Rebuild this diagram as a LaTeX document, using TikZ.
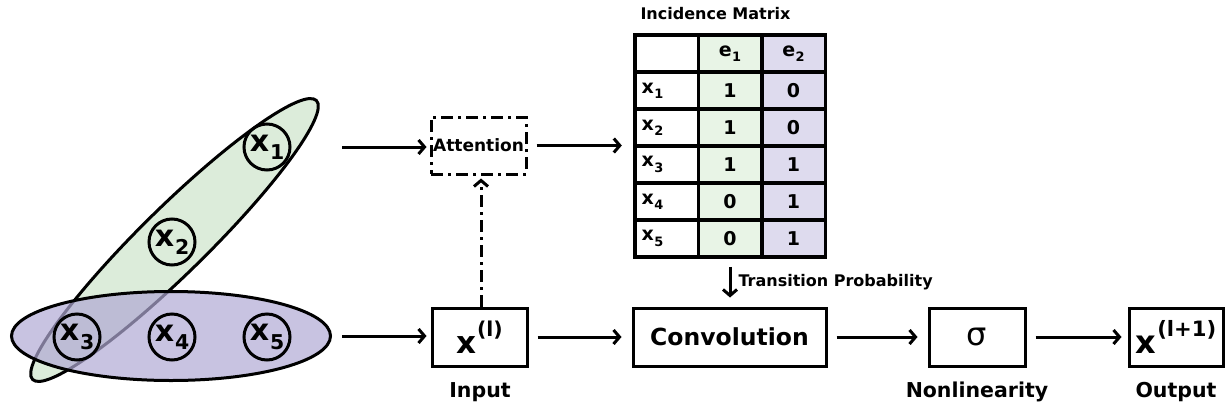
\documentclass[tikz,border=0pt]{standalone}
\usepackage{fontspec}
\usepackage{graphicx}
\setmainfont{DejaVu Sans}
\usetikzlibrary{arrows.meta,shapes.geometric,fit}
\definecolor{gfill}{RGB}{220,236,218}
\definecolor{pfill}{RGB}{176,169,212}
\definecolor{gcol}{RGB}{232,244,230}
\definecolor{pcol}{RGB}{222,219,238}
\newcommand\fsz[1]{\fontsize{#1}{#1}\selectfont}
\newcommand\vsub[2]{#1\kern0.03em\raisebox{-0.28em}{\scalebox{0.68}{#2}}}
\newcommand\vsup[2]{#1\kern0.03em\raisebox{0.55em}{\scalebox{0.66}{#2}}}
\begin{document}
\begin{tikzpicture}[x=1pt,y=-1pt,
  arr/.style={line width=3pt,-{Straight Barb[length=6pt,width=14pt]}},
  vtx/.style={circle,draw,line width=3pt,minimum size=46pt,inner sep=0pt,font=\fsz{30}\bfseries},
  hedge/.style={ellipse,draw,line width=3pt,inner sep=0pt},
  stage/.style={draw,line width=3pt,minimum height=58pt,inner sep=0pt},
  lbl/.style={font=\fsz{20.5}\bfseries,inner sep=0pt},
  cell/.style={draw,line width=3.5pt,minimum width=63.5pt,minimum height=37pt,inner sep=0pt,font=\fsz{19}\bfseries},
  rowlbl/.style={cell,text width=50pt,align=left},
  dashdot/.style={dash pattern=on 12pt off 5pt on 3pt off 5pt}
]
\useasboundingbox (0,0) rectangle (1226,410);

% hyperedges
\node[hedge,fill=gfill,minimum width=398pt,minimum height=66pt,rotate=44.5] (e1) at (174.5,240) {};
\node[hedge,fill=pfill,fill opacity=0.7,minimum width=319pt,minimum height=89pt] (e2) at (171,336) {};

% vertices
\node[vtx] (x1) at (267,147) {\vsub{x}{1}};
\node[vtx] (x2) at (172,242) {\vsub{x}{2}};
\node[vtx] (x3) at (77,337) {\vsub{x}{3}};
\node[vtx] (x4) at (172,337) {\vsub{x}{4}};
\node[vtx] (x5) at (267,337) {\vsub{x}{5}};

\coordinate (h1) at (342,147);
\coordinate (h2) at (342,336);

% attention
\node[draw,line width=3pt,dashdot,minimum width=95pt,minimum height=57pt,inner sep=0pt,font=\fsz{17}\bfseries] (att) at (478.5,145.5) {Attention};

% incidence matrix
\node[font=\fsz{16}\bfseries,inner sep=0pt] (title) at (715.5,14) {Incidence Matrix};
\node[cell] (c00) at (666.5,53.5) {};
\node[cell,fill=gcol] (c01) at (730,53.5) {\vsub{e}{1}};
\node[cell,fill=pcol] (c02) at (793.5,53.5) {\vsub{e}{2}};
\foreach \r/\a/\b in {1/1/0,2/1/0,3/1/1,4/0/1,5/0/1}{
  \node[rowlbl] (c\r0) at (666.5,53.5+37*\r) {\vsub{x}{\r}};
  \node[cell,fill=gcol] (c\r1) at (730,53.5+37*\r) {\a};
  \node[cell,fill=pcol] (c\r2) at (793.5,53.5+37*\r) {\b};
}
\node[fit=(c00)(c52),inner sep=0pt] (tbl) {};

% pipeline
\node[stage,minimum width=95pt,font=\fsz{31}\bfseries] (xl) at (479.5,337) {\vsup{x}{(l)}};
\node[stage,minimum width=193pt,font=\fsz{23.5}\bfseries] (conv) at (729.5,337) {Convolution};
\node[stage,minimum width=96pt,font=\fsz{32}] (sig) at (977,337) {σ};
\node[stage,minimum width=94pt,font=\fsz{32}\bfseries] (out) at (1176,337) {\vsup{x}{(l+1)}};

\node[lbl] (lin) at (480,392) {Input};
\node[lbl] (lnl) at (977,392) {Nonlinearity};
\node[lbl] (lout) at (1176,392) {Output};

% connectors
\draw[arr,shorten >=3pt] (h1) -- (att.west |- h1);
\draw[arr,shorten <=9pt,shorten >=11pt] (att.east) -- (att.east -| tbl.west);
\draw[arr,dashdot,shorten >=3pt] (xl.north -| 481,0) -- (att.south -| 481,0);
\draw[arr,shorten >=4pt] (h2) -- (xl.west |- h2);
\draw[arr,shorten <=9pt,shorten >=10pt] (xl.east) -- (conv.west);
\draw[arr,shorten <=9pt,shorten >=10pt] (conv.east) -- (sig.west);
\draw[arr,shorten <=9pt,shorten >=6pt] (sig.east) -- (out.west);
\draw[arr,shorten <=8pt,shorten >=9pt] (c51.south) -- (c51.south |- conv.north) node[pos=0.5,right=7pt,font=\fsz{16}\bfseries,inner sep=0pt] (tp) {Transition Probability};
\end{tikzpicture}
\end{document}
